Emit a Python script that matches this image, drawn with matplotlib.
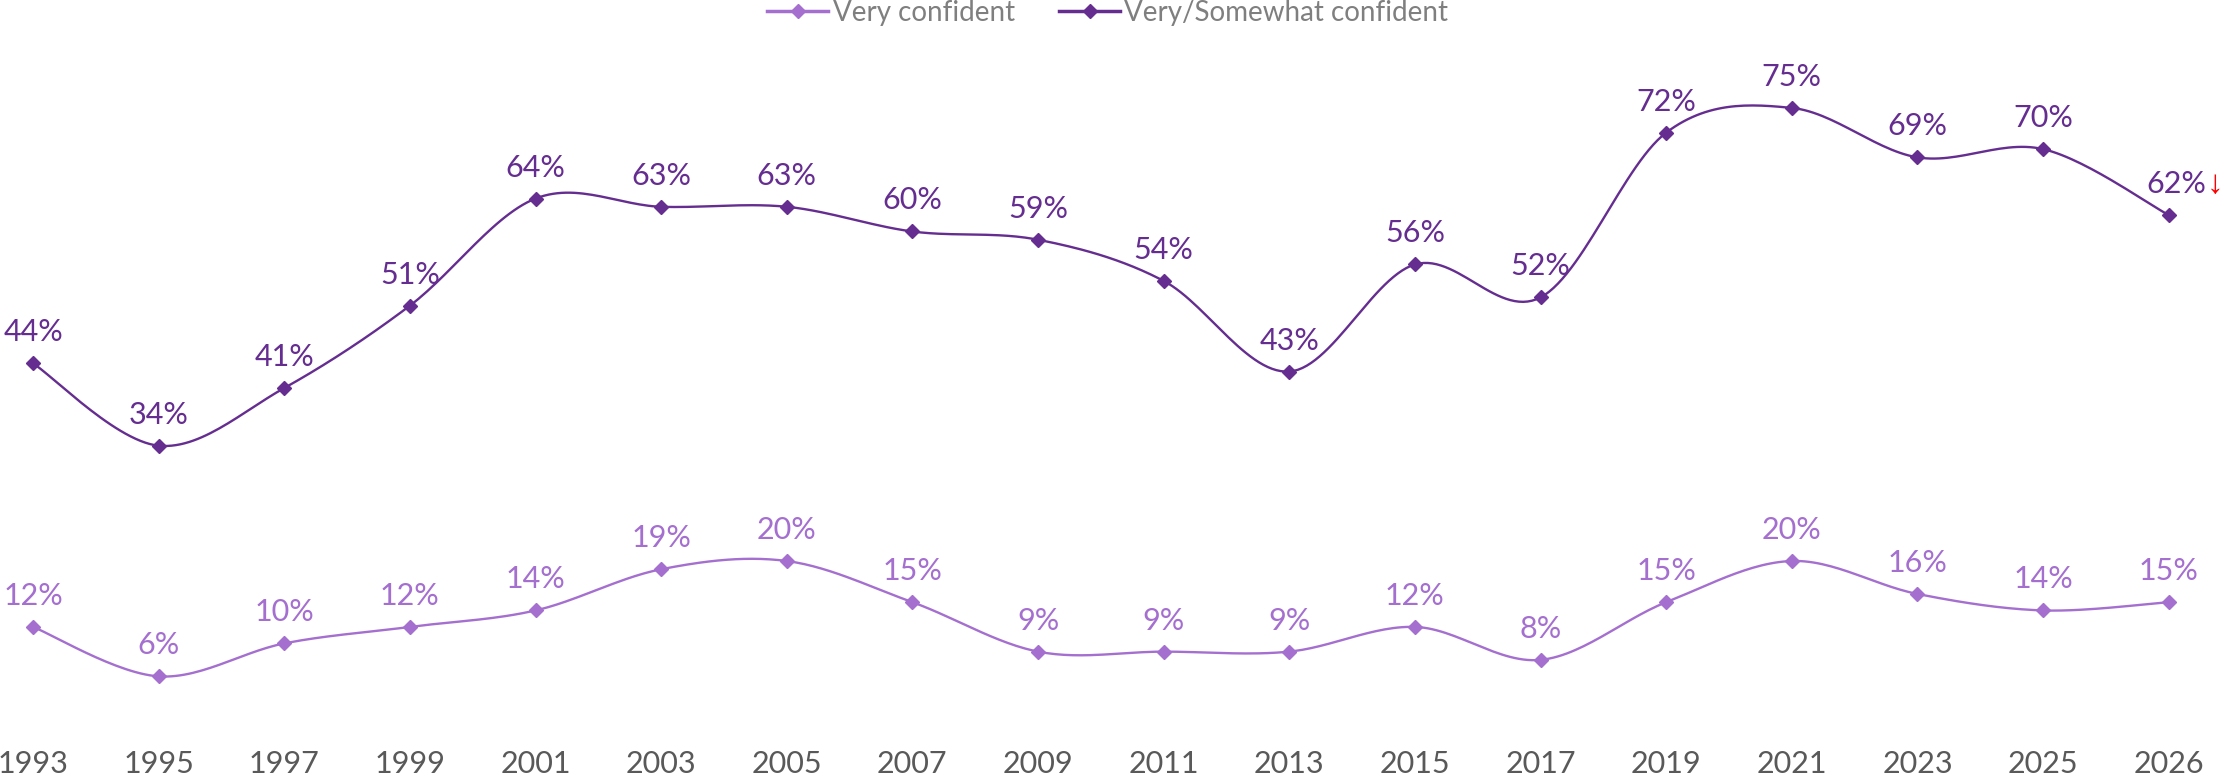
import numpy as np
import matplotlib
matplotlib.use("Agg")
import matplotlib.pyplot as plt
from matplotlib.lines import Line2D

years = ["1993", "1995", "1997", "1999", "2001", "2003", "2005", "2007", "2009",
         "2011", "2013", "2015", "2017", "2019", "2021", "2023", "2025", "2026"]
very_confident = [12, 6, 10, 12, 14, 19, 20, 15, 9, 9, 9, 12, 8, 15, 20, 16, 14, 15]
very_somewhat = [44, 34, 41, 51, 64, 63, 63, 60, 59, 54, 43, 56, 52, 72, 75, 69, 70, 62]
series_names = ["Very confident", "Very/Somewhat confident"]

LIGHT = "#A46FCF"
DARK = "#652D90"

plt.rcParams['font.family'] = ['Lato', 'DejaVu Sans']


def smooth(x, y, n=30):
    """Catmull-Rom style smoothing (as Excel smoothed lines)."""
    x = np.asarray(x, float)
    y = np.asarray(y, float)
    px = np.concatenate([[x[0]], x, [x[-1]]])
    py = np.concatenate([[y[0]], y, [y[-1]]])
    xs, ys = [], []
    for i in range(1, len(px) - 2):
        p0, p1, p2, p3 = (np.array([px[j], py[j]]) for j in (i - 1, i, i + 1, i + 2))
        c1 = p1 + (p2 - p0) / 6.0
        c2 = p2 - (p3 - p1) / 6.0
        t = np.linspace(0, 1, n)[:, None]
        pts = ((1 - t) ** 3) * p1 + 3 * ((1 - t) ** 2) * t * c1 + 3 * (1 - t) * t ** 2 * c2 + t ** 3 * p2
        xs.extend(pts[:, 0])
        ys.extend(pts[:, 1])
    return np.array(xs), np.array(ys)


fig = plt.figure(figsize=(22.29, 7.84), dpi=100)
ax = fig.add_axes([0, 0.05, 1, 0.95])
x = np.arange(len(years))

for vals, col in ((very_confident, LIGHT), (very_somewhat, DARK)):
    sx, sy = smooth(x, vals)
    ax.plot(sx, sy, color=col, lw=1.7, solid_capstyle='round')
    ax.plot(x, vals, ls='none', marker='D', ms=7, color=col)

for i, v in enumerate(very_confident):
    ax.annotate(f"{v}%", (x[i], v), xytext=(0, 22), textcoords='offset pixels',
                ha='center', va='baseline', fontsize=22, color=LIGHT)

last = len(years) - 1
for i, v in enumerate(very_somewhat):
    if i == last:
        ax.annotate(f"{v}%", (x[i], v), xytext=(38, 22), textcoords='offset pixels',
                    ha='right', va='baseline', fontsize=22, color=DARK)
    else:
        ax.annotate(f"{v}%", (x[i], v), xytext=(0, 22), textcoords='offset pixels',
                    ha='center', va='baseline', fontsize=22, color=DARK)

# red down arrow after last label
ax.annotate("\u2193", (x[-1], very_somewhat[-1]), xytext=(38, 22), textcoords='offset pixels',
            ha='left', va='baseline', fontsize=24, color='red',
            family=['Liberation Sans', 'DejaVu Sans'])

ax.set_xlim(-0.263, 17.48)
ax.set_ylim(-2.31, 88.1)
ax.set_xticks(x)
ax.set_xticklabels(years, fontsize=22, color="#595959")
ax.tick_params(axis='x', length=0, pad=4)
ax.set_yticks([])
for s in ax.spines.values():
    s.set_visible(False)

handles = [Line2D([], [], color=LIGHT, lw=2.5, marker='D', ms=7),
           Line2D([], [], color=DARK, lw=2.5, marker='D', ms=7)]
leg = fig.legend(handles, series_names, loc='center', bbox_to_anchor=(0.497, 0.984),
                 ncol=2, frameon=False, fontsize=20, handlelength=2.2, handletextpad=0.15,
                 columnspacing=1.6, labelcolor="#7F7F7F")

fig.savefig("out.png", dpi=100)
